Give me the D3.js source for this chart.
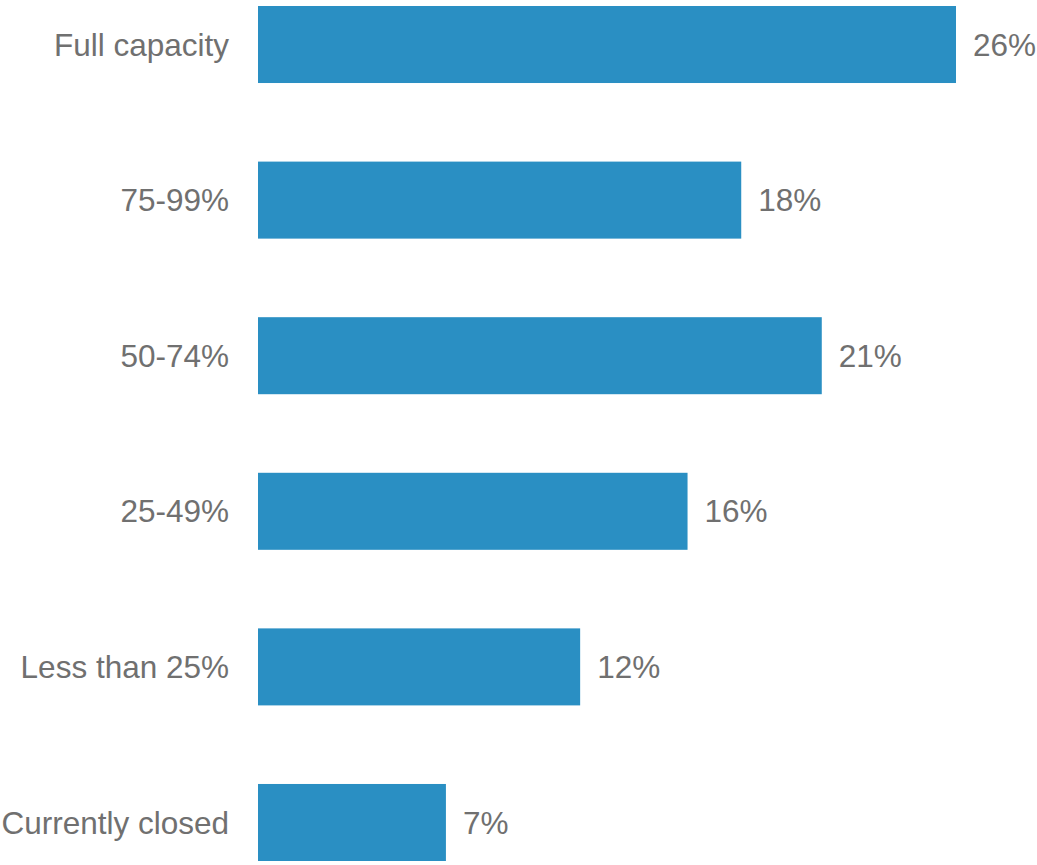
<!DOCTYPE html>
<html>
<head>
<meta charset="utf-8">
<script src="https://cdn.jsdelivr.net/npm/d3@7"></script>
<style>
  html, body { margin: 0; padding: 0; background: #fff; }
  svg { display: block; }
</style>
</head>
<body>
<div id="chart"></div>
<script>
const categorias = ["Full capacity", "75-99%", "50-74%", "25-49%", "Less than 25%", "Currently closed"];
const valores = [26, 18, 21, 16, 12, 7];

const width = 1037, height = 865;
const svg = d3.select("#chart")
    .append("svg")
    .attr("width", width)
    .attr("height", height);

const x = d3.scaleLinear()
    .domain([0, 26])
    .range([258, 956]);

const y = d3.scaleBand()
    .domain(categorias)
    .range([6, 861])
    .paddingInner(0.505)
    .paddingOuter(0);

const datos = categorias.map((c, i) => ({ cat: c, val: valores[i] }));

svg.selectAll("rect.bar")
    .data(datos)
    .enter()
    .append("rect")
    .attr("class", "bar")
    .attr("x", x(0))
    .attr("y", d => y(d.cat))
    .attr("width", d => x(d.val) - x(0))
    .attr("height", y.bandwidth())
    .attr("fill", "#2a8fc3");

// etiquetas de categoria
svg.selectAll("text.cat")
    .data(datos)
    .enter()
    .append("text")
    .attr("class", "cat")
    .attr("x", x(0) - 29)
    .attr("y", d => y(d.cat) + y.bandwidth() / 2)
    .attr("dy", "0.35em")
    .attr("text-anchor", "end")
    .attr("font-family", "Liberation Sans, Arial, sans-serif")
    .attr("font-size", "31.5px")
    .attr("fill", "#707070")
    .text(d => d.cat);

// valores
svg.selectAll("text.val")
    .data(datos)
    .enter()
    .append("text")
    .attr("class", "val")
    .attr("x", d => x(d.val) + 17)
    .attr("y", d => y(d.cat) + y.bandwidth() / 2)
    .attr("dy", "0.35em")
    .attr("font-family", "Liberation Sans, Arial, sans-serif")
    .attr("font-size", "31.5px")
    .attr("fill", "#707070")
    .text(d => d.val + "%");
</script>
</body>
</html>
